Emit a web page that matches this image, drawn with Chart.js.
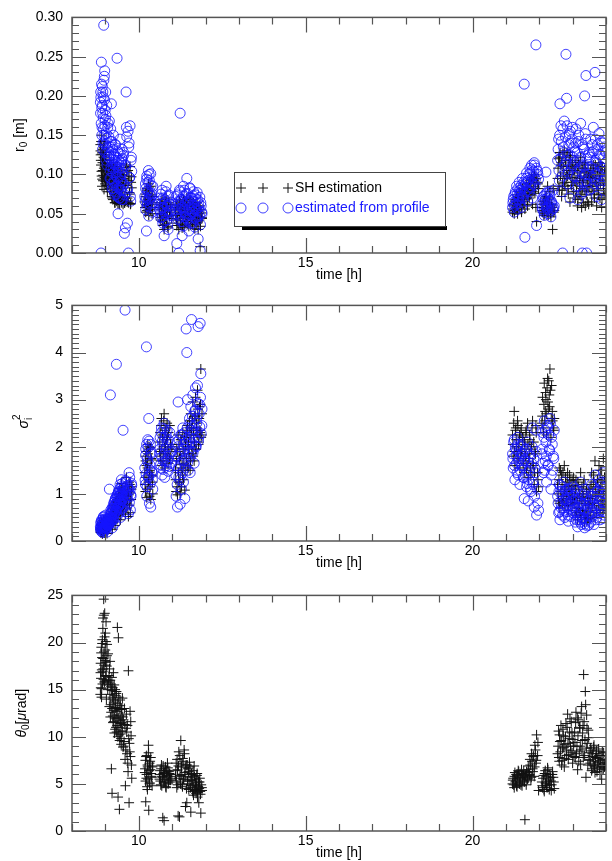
<!DOCTYPE html>
<html>
<head>
<meta charset="utf-8">
<script src="https://cdn.jsdelivr.net/npm/chart.js@4.4.0/dist/chart.umd.min.js"></script>
<style>
  html, body { margin: 0; padding: 0; background: #fff; overflow: hidden; }
  .panel { position: absolute; left: 0; width: 612px; height: 288px; }
</style>
</head>
<body>
<div class="panel" style="top:0"><canvas id="r0Chart"></canvas></div>
<div class="panel" style="top:288px"><canvas id="sigmaChart"></canvas></div>
<div class="panel" style="top:578px"><canvas id="thetaChart"></canvas></div>
<script>
// time of each measurement [h]; first run, then the interleaved second run
const hours = [
  8.85, 8.86, 8.87, 8.88, 8.89, 8.90, 8.91, 8.92, 8.93, 8.94, 8.95, 8.96, 8.97, 8.98, 8.99, 9.00, 9.01, 9.02, 9.03, 9.04, 9.05, 9.06, 9.08, 9.10,
  9.11, 9.12, 9.14, 9.15, 9.17, 9.18, 9.20, 9.21, 9.23, 9.24, 9.26, 9.27, 9.29, 9.30, 9.32, 9.33, 9.35, 9.36, 9.38, 9.39, 9.41, 9.42, 9.44, 9.45, 9.47, 9.48, 9.50, 9.51, 9.53, 9.54, 9.56, 9.57, 9.59, 9.60, 9.62, 9.63, 9.65, 9.66, 9.68, 9.69, 9.71, 9.72, 9.74, 9.75, 9.77, 9.79,
  10.18, 10.20, 10.21, 10.23, 10.24, 10.26, 10.27, 10.29, 10.30, 10.32, 10.33, 10.35, 10.36, 10.38, 10.40, 10.42,
  10.62, 10.64, 10.66, 10.68, 10.70, 10.72, 10.74, 10.76, 10.78, 10.80, 10.82, 10.84, 10.86, 10.88, 10.90, 10.93, 10.96, 10.99,
  11.10, 11.12, 11.14, 11.16, 11.18, 11.20, 11.22, 11.24, 11.26, 11.28, 11.30, 11.32, 11.34, 11.36, 11.38, 11.40, 11.42, 11.44, 11.46, 11.48, 11.50, 11.52, 11.54, 11.56, 11.58, 11.60, 11.62, 11.64, 11.66, 11.68, 11.70, 11.72, 11.74, 11.76, 11.78, 11.80, 11.82, 11.84, 11.86, 11.89,
  21.20, 21.22, 21.25, 21.27, 21.30, 21.32, 21.35, 21.37, 21.40, 21.42, 21.45, 21.47, 21.50, 21.52, 21.55, 21.57, 21.60, 21.62, 21.65, 21.67, 21.70, 21.72, 21.75, 21.77, 21.80, 21.82, 21.85, 21.87, 21.90, 21.92, 21.95, 21.98,
  22.08, 22.10, 22.13, 22.15, 22.18, 22.20, 22.22, 22.25, 22.27, 22.30, 22.32, 22.35, 22.37, 22.40, 22.42, 22.45,
  22.55, 22.58, 22.60, 22.62, 22.65, 22.67, 22.70, 22.72, 22.75, 22.77, 22.80, 22.82, 22.85, 22.87, 22.90, 22.92, 22.95, 22.98, 23.00, 23.03,
  23.06, 23.08, 23.10, 23.13, 23.15, 23.17, 23.20, 23.22, 23.24, 23.27, 23.29, 23.31, 23.33, 23.36, 23.38, 23.40, 23.42, 23.44, 23.47, 23.49,
  23.52, 23.54, 23.57, 23.59, 23.62, 23.64, 23.67, 23.69, 23.72, 23.74, 23.77, 23.79, 23.82, 23.84, 23.87, 23.89, 23.92, 23.94, 23.97, 23.99,
  // second run
  8.855, 8.865, 8.875, 8.885, 8.895, 8.905, 8.915, 8.925, 8.935, 8.945, 8.955, 8.965, 8.975, 8.985, 8.995, 9.005, 9.015, 9.025, 9.045, 9.07,
  9.105, 9.125, 9.135, 9.145, 9.16, 9.165, 9.175, 9.19, 9.195, 9.205, 9.22, 9.225, 9.235, 9.25, 9.255, 9.265, 9.28, 9.285, 9.295, 9.31, 9.315, 9.325, 9.34, 9.345, 9.355, 9.37, 9.375, 9.385, 9.40, 9.405, 9.415, 9.43, 9.435, 9.445, 9.46, 9.465, 9.475, 9.49, 9.495, 9.505, 9.52, 9.545, 9.58, 9.61, 9.64, 9.67, 9.70, 9.73, 9.76, 9.78,
  10.19, 10.205, 10.22, 10.235, 10.25, 10.265, 10.28, 10.295, 10.31, 10.325, 10.34, 10.37, 10.39, 10.41,
  10.63, 10.65, 10.67, 10.69, 10.71, 10.73, 10.75, 10.77, 10.79, 10.81, 10.83, 10.85, 10.87, 10.89, 10.92, 10.95,
  11.11, 11.13, 11.15, 11.17, 11.19, 11.21, 11.23, 11.25, 11.27, 11.29, 11.31, 11.33, 11.35, 11.37, 11.39, 11.41, 11.43, 11.45, 11.47, 11.49, 11.51, 11.53, 11.55, 11.57, 11.59, 11.61, 11.63, 11.65, 11.67, 11.69, 11.71, 11.73, 11.75, 11.77, 11.79, 11.81, 11.83, 11.85, 11.87, 11.895,
  21.21, 21.235, 21.26, 21.285, 21.31, 21.335, 21.36, 21.385, 21.41, 21.435, 21.46, 21.485, 21.51, 21.535, 21.56, 21.585, 21.61, 21.635, 21.66, 21.685, 21.71, 21.735, 21.76, 21.785, 21.81, 21.835, 21.86, 21.885, 21.91, 21.96,
  22.09, 22.115, 22.14, 22.165, 22.19, 22.21, 22.235, 22.26, 22.285, 22.31, 22.335, 22.36, 22.39, 22.435,
  22.565, 22.59, 22.61, 22.635, 22.66, 22.685, 22.71, 22.735, 22.76, 22.785, 22.81, 22.835, 22.86, 22.885, 22.91, 22.935, 22.96, 22.985, 23.01, 23.04,
  23.07, 23.09, 23.115, 23.14, 23.16, 23.185, 23.21, 23.23, 23.255, 23.28, 23.30, 23.32, 23.345, 23.37, 23.39, 23.41, 23.43, 23.455, 23.48, 23.495,
  23.53, 23.555, 23.58, 23.605, 23.63, 23.655, 23.68, 23.705, 23.73, 23.755, 23.78, 23.805, 23.83, 23.855, 23.88, 23.905, 23.93, 23.955, 23.98, 23.995
];

// r0 [m]
const r0SH = [
  0.138, 0.125, 0.112, 0.150, 0.098, 0.085, 0.128, 0.105, 0.092, 0.118, 0.134, 0.081, 0.121, 0.110, 0.088, 0.102, 0.119, 0.095, 0.086, 0.109, 0.093, 0.078, 0.104, 0.090,
  0.100, 0.118, 0.082, 0.108, 0.090, 0.112, 0.070, 0.104, 0.084, 0.115, 0.076, 0.096, 0.064, 0.101, 0.080, 0.092, 0.110, 0.068, 0.075, 0.098, 0.063, 0.087, 0.106, 0.074, 0.094, 0.066, 0.100, 0.082, 0.062, 0.095, 0.071, 0.064, 0.088, 0.066, 0.109, 0.112, 0.065, 0.070, 0.105, 0.064, 0.098, 0.077, 0.110, 0.062, 0.090, 0.083,
  0.065, 0.075, 0.052, 0.060, 0.082, 0.058, 0.070, 0.088, 0.048, 0.079, 0.062, 0.055, 0.085, 0.068, 0.050, 0.072,
  0.050, 0.062, 0.042, 0.055, 0.068, 0.035, 0.052, 0.030, 0.060, 0.046, 0.070, 0.038, 0.054, 0.032, 0.064, 0.048, 0.058, 0.044,
  0.048, 0.060, 0.035, 0.042, 0.055, 0.030, 0.066, 0.058, 0.036, 0.058, 0.032, 0.050, 0.068, 0.033, 0.054, 0.044, 0.062, 0.070, 0.040, 0.056, 0.034, 0.048, 0.066, 0.036, 0.060, 0.046, 0.040, 0.064, 0.052, 0.031, 0.062, 0.047, 0.038, 0.058, 0.030, 0.050, 0.042, 0.008, 0.055, 0.045,
  0.052, 0.060, 0.050, 0.066, 0.055, 0.074, 0.050, 0.064, 0.078, 0.058, 0.070, 0.052, 0.082, 0.062, 0.068, 0.056, 0.076, 0.088, 0.060, 0.080, 0.070, 0.092, 0.074, 0.096, 0.062, 0.085, 0.100, 0.076, 0.058, 0.040, 0.090, 0.082,
  0.058, 0.052, 0.066, 0.050, 0.070, 0.062, 0.056, 0.085, 0.048, 0.062, 0.078, 0.046, 0.060, 0.030, 0.082, 0.054,
  0.095, 0.120, 0.080, 0.128, 0.112, 0.072, 0.088, 0.110, 0.130, 0.085, 0.118, 0.105, 0.098, 0.075, 0.122, 0.065, 0.108, 0.090, 0.115, 0.078,
  0.105, 0.070, 0.118, 0.088, 0.060, 0.112, 0.095, 0.075, 0.122, 0.058, 0.082, 0.108, 0.092, 0.115, 0.060, 0.102, 0.078, 0.065, 0.098, 0.085,
  0.088, 0.105, 0.065, 0.098, 0.112, 0.075, 0.090, 0.095, 0.060, 0.108, 0.082, 0.115, 0.070, 0.100, 0.058, 0.110, 0.086, 0.074, 0.102, 0.092,
  // second run
  0.130, 0.118, 0.142, 0.104, 0.126, 0.094, 0.115, 0.132, 0.099, 0.122, 0.108, 0.140, 0.096, 0.114, 0.125, 0.091, 0.106, 0.128, 0.097, 0.112,
  0.108, 0.095, 0.112, 0.086, 0.102, 0.078, 0.098, 0.110, 0.072, 0.092, 0.105, 0.068, 0.088, 0.100, 0.075, 0.094, 0.064, 0.090, 0.108, 0.070, 0.085, 0.098, 0.066, 0.092, 0.080, 0.104, 0.063, 0.087, 0.096, 0.073, 0.090, 0.062, 0.084, 0.101, 0.069, 0.093, 0.078, 0.064, 0.088, 0.099, 0.071, 0.094, 0.064, 0.086, 0.103, 0.066, 0.092, 0.075, 0.063, 0.097,
  0.058, 0.072, 0.062, 0.080, 0.054, 0.068, 0.076, 0.060, 0.084, 0.066, 0.056, 0.074, 0.064, 0.058,
  0.058, 0.045, 0.064, 0.050, 0.040, 0.060, 0.048, 0.036, 0.056, 0.066, 0.044, 0.052, 0.034, 0.062, 0.047, 0.055,
  0.052, 0.044, 0.062, 0.038, 0.056, 0.048, 0.064, 0.041, 0.058, 0.050, 0.035, 0.060, 0.046, 0.066, 0.040, 0.054, 0.047, 0.063, 0.037, 0.057, 0.049, 0.068, 0.043, 0.059, 0.052, 0.036, 0.061, 0.045, 0.055, 0.039, 0.058, 0.048, 0.064, 0.041, 0.053, 0.046, 0.060, 0.034, 0.051, 0.044,
  0.056, 0.062, 0.054, 0.068, 0.058, 0.064, 0.072, 0.060, 0.070, 0.066, 0.076, 0.062, 0.074, 0.080, 0.066, 0.078, 0.084, 0.070, 0.082, 0.088, 0.074, 0.090, 0.080, 0.094, 0.078, 0.092, 0.098, 0.082, 0.095, 0.088,
  0.054, 0.062, 0.048, 0.066, 0.058, 0.072, 0.052, 0.064, 0.056, 0.070, 0.050, 0.062, 0.058, 0.052,
  0.108, 0.085, 0.122, 0.098, 0.115, 0.080, 0.126, 0.102, 0.090, 0.118, 0.095, 0.128, 0.082, 0.110, 0.100, 0.124, 0.086, 0.112, 0.096, 0.105,
  0.092, 0.110, 0.078, 0.102, 0.068, 0.115, 0.085, 0.098, 0.072, 0.108, 0.090, 0.064, 0.104, 0.080, 0.112, 0.074, 0.096, 0.086, 0.062, 0.100,
  0.096, 0.078, 0.108, 0.085, 0.102, 0.070, 0.112, 0.090, 0.080, 0.104, 0.074, 0.098, 0.088, 0.110, 0.068, 0.094, 0.082, 0.106, 0.076, 0.100
];
const r0Profile = [
  0.192, 0.205, 0.000, 0.243, 0.185, 0.160, 0.212, 0.178, 0.140, 0.198, 0.290, 0.150, 0.225, 0.232, 0.128, 0.170, 0.205, 0.118, 0.146, 0.188, 0.112, 0.135, 0.165, 0.122,
  0.125, 0.168, 0.095, 0.142, 0.110, 0.190, 0.082, 0.135, 0.102, 0.150, 0.090, 0.122, 0.074, 0.138, 0.098, 0.115, 0.248, 0.085, 0.050, 0.128, 0.070, 0.108, 0.145, 0.092, 0.118, 0.080, 0.132, 0.101, 0.068, 0.124, 0.088, 0.025, 0.112, 0.032, 0.205, 0.160, 0.078, 0.038, 0.155, 0.000, 0.140, 0.096, 0.162, 0.072, 0.118, 0.104,
  0.072, 0.088, 0.055, 0.028, 0.098, 0.064, 0.080, 0.105, 0.047, 0.092, 0.069, 0.058, 0.101, 0.076, 0.052, 0.085,
  0.055, 0.070, 0.045, 0.062, 0.080, 0.038, 0.058, 0.022, 0.068, 0.050, 0.085, 0.042, 0.060, 0.030, 0.074, 0.052, 0.065, 0.048,
  0.055, 0.072, 0.012, 0.048, 0.064, 0.000, 0.080, 0.178, 0.040, 0.068, 0.022, 0.058, 0.085, 0.035, 0.062, 0.050, 0.075, 0.095, 0.044, 0.066, 0.028, 0.056, 0.082, 0.038, 0.070, 0.052, 0.046, 0.078, 0.060, 0.033, 0.074, 0.054, 0.042, 0.068, 0.018, 0.058, 0.048, 0.003, 0.064, 0.052,
  0.058, 0.068, 0.052, 0.075, 0.062, 0.085, 0.056, 0.072, 0.090, 0.064, 0.080, 0.058, 0.095, 0.070, 0.215, 0.020, 0.088, 0.102, 0.066, 0.092, 0.078, 0.108, 0.084, 0.112, 0.070, 0.098, 0.115, 0.086, 0.265, 0.035, 0.104, 0.094,
  0.062, 0.055, 0.072, 0.048, 0.068, 0.103, 0.058, 0.078, 0.050, 0.066, 0.074, 0.046, 0.064, 0.056, 0.080, 0.060,
  0.118, 0.145, 0.092, 0.190, 0.162, 0.078, 0.000, 0.135, 0.168, 0.105, 0.253, 0.197, 0.125, 0.088, 0.152, 0.070, 0.140, 0.112, 0.160, 0.098,
  0.130, 0.085, 0.158, 0.105, 0.068, 0.142, 0.118, 0.092, 0.165, 0.075, 0.000, 0.135, 0.110, 0.200, 0.152, 0.226, 0.000, 0.088, 0.125, 0.100,
  0.110, 0.145, 0.082, 0.128, 0.160, 0.095, 0.230, 0.118, 0.072, 0.138, 0.102, 0.152, 0.088, 0.125, 0.068, 0.140, 0.108, 0.092, 0.130, 0.115,
  // second run
  0.178, 0.198, 0.165, 0.215, 0.150, 0.188, 0.132, 0.205, 0.172, 0.158, 0.220, 0.142, 0.195, 0.162, 0.182, 0.138, 0.175, 0.152, 0.128, 0.160,
  0.148, 0.120, 0.135, 0.105, 0.158, 0.095, 0.128, 0.142, 0.088, 0.115, 0.132, 0.082, 0.108, 0.125, 0.092, 0.118, 0.078, 0.112, 0.138, 0.085, 0.102, 0.122, 0.075, 0.110, 0.096, 0.130, 0.072, 0.106, 0.118, 0.083, 0.112, 0.070, 0.098, 0.126, 0.080, 0.115, 0.092, 0.068, 0.108, 0.120, 0.085, 0.128, 0.074, 0.110, 0.148, 0.082, 0.135, 0.096, 0.066, 0.122,
  0.066, 0.082, 0.070, 0.094, 0.060, 0.078, 0.090, 0.068, 0.100, 0.075, 0.062, 0.086, 0.072, 0.064,
  0.066, 0.052, 0.075, 0.058, 0.046, 0.070, 0.055, 0.040, 0.064, 0.078, 0.050, 0.060, 0.036, 0.072, 0.054, 0.062,
  0.062, 0.050, 0.074, 0.043, 0.066, 0.056, 0.078, 0.047, 0.068, 0.058, 0.040, 0.072, 0.053, 0.080, 0.045, 0.064, 0.055, 0.076, 0.042, 0.067, 0.057, 0.083, 0.049, 0.070, 0.061, 0.038, 0.073, 0.052, 0.065, 0.044, 0.069, 0.056, 0.077, 0.046, 0.063, 0.054, 0.071, 0.036, 0.060, 0.050,
  0.064, 0.072, 0.060, 0.078, 0.066, 0.074, 0.082, 0.068, 0.080, 0.076, 0.086, 0.072, 0.084, 0.090, 0.076, 0.088, 0.095, 0.080, 0.092, 0.100, 0.084, 0.102, 0.090, 0.106, 0.088, 0.104, 0.112, 0.094, 0.108, 0.100,
  0.058, 0.068, 0.052, 0.074, 0.062, 0.076, 0.056, 0.070, 0.060, 0.078, 0.054, 0.066, 0.062, 0.057,
  0.132, 0.105, 0.150, 0.120, 0.142, 0.098, 0.158, 0.128, 0.112, 0.148, 0.118, 0.162, 0.102, 0.138, 0.125, 0.155, 0.108, 0.145, 0.122, 0.135,
  0.115, 0.140, 0.098, 0.128, 0.085, 0.150, 0.108, 0.122, 0.090, 0.138, 0.112, 0.078, 0.132, 0.100, 0.145, 0.092, 0.120, 0.106, 0.080, 0.128,
  0.122, 0.098, 0.138, 0.108, 0.130, 0.088, 0.145, 0.115, 0.100, 0.132, 0.092, 0.125, 0.110, 0.142, 0.085, 0.120, 0.104, 0.135, 0.095, 0.128
];

// scintillation index sigma_i^2
const sigmaSH = [
  0.25, 0.18, 0.33, 0.22, 0.40, 0.28, 0.15, 0.36, 0.21, 0.44, 0.30, 0.24, 0.17, 0.41, 0.27, 0.20, 0.46, 0.31, 0.23, 0.37, 0.16, 0.34, 0.28, 0.42,
  0.30, 0.42, 0.38, 0.52, 0.34, 0.55, 0.48, 0.25, 0.62, 0.40, 0.75, 0.52, 0.33, 0.82, 0.60, 0.70, 0.46, 0.88, 0.66, 0.98, 0.55, 0.80, 1.12, 0.45, 0.72, 1.22, 0.62, 0.90, 0.75, 0.66, 1.08, 0.78, 0.95, 0.57, 0.96, 1.35, 0.70, 0.86, 1.05, 0.52, 1.25, 0.76, 1.02, 0.60, 0.88, 1.15,
  1.45, 1.05, 1.80, 1.60, 0.92, 1.65, 2.05, 1.25, 1.95, 0.95, 1.50, 1.98, 0.88, 1.72, 1.38, 1.00,
  1.90, 2.30, 1.70, 2.60, 1.60, 2.20, 1.85, 2.70, 1.55, 2.05, 2.40, 1.75, 2.20, 1.65, 1.95, 2.45, 1.80, 2.00,
  1.50, 1.05, 1.95, 0.98, 2.25, 1.25, 1.75, 1.02, 2.15, 1.15, 1.62, 2.30, 1.30, 1.85, 1.08, 2.05, 2.20, 2.35, 2.45, 1.55, 1.95, 2.55, 1.50, 2.70, 2.40, 1.85, 2.95, 2.25, 1.70, 2.65, 3.05, 1.95, 2.40, 3.20, 2.60, 2.10, 2.85, 2.30, 3.65, 2.25,
  2.25, 1.80, 2.75, 1.60, 2.40, 2.00, 2.55, 1.75, 2.15, 1.55, 2.30, 1.90, 2.20, 1.65, 1.45, 2.05, 2.30, 1.50, 2.50, 1.35, 1.85, 2.15, 1.40, 2.00, 2.55, 1.60, 1.20, 1.90, 2.45, 1.05, 1.45, 1.15,
  2.50, 3.05, 2.30, 3.35, 2.75, 3.00, 2.25, 3.45, 2.80, 3.10, 3.65, 2.20, 3.30, 2.55, 2.40, 2.60,
  1.20, 0.85, 1.55, 0.70, 1.05, 1.40, 0.80, 0.95, 1.60, 0.75, 1.15, 0.90, 1.45, 0.65, 1.00, 1.30, 0.78, 1.10, 0.92, 1.35,
  0.95, 0.55, 1.30, 0.70, 0.45, 1.15, 0.80, 0.60, 1.45, 0.50, 1.00, 0.65, 1.20, 0.40, 0.85, 0.55, 1.10, 0.45, 0.75, 1.05,
  1.10, 0.55, 1.45, 0.80, 1.25, 0.50, 1.70, 0.95, 0.65, 1.30, 1.00, 1.60, 0.60, 1.15, 1.50, 0.85, 1.75, 0.72, 1.35, 1.05,
  // second run
  0.21, 0.35, 0.27, 0.19, 0.38, 0.24, 0.32, 0.17, 0.29, 0.43, 0.22, 0.35, 0.26, 0.20, 0.39, 0.28, 0.33, 0.24, 0.40, 0.30,
  0.32, 0.45, 0.36, 0.50, 0.42, 0.58, 0.38, 0.52, 0.46, 0.62, 0.40, 0.56, 0.68, 0.48, 0.60, 0.72, 0.52, 0.66, 0.78, 0.55, 0.70, 0.84, 0.58, 0.74, 0.88, 0.62, 0.80, 0.92, 0.66, 0.85, 1.00, 0.70, 0.86, 0.94, 0.74, 0.90, 1.05, 0.78, 0.95, 1.10, 0.82, 1.00, 0.90, 1.15, 0.85, 1.05, 0.98, 1.20, 0.88, 1.10,
  1.20, 1.70, 1.35, 1.90, 1.10, 1.55, 1.85, 1.30, 2.00, 1.45, 1.15, 1.75, 1.40, 1.25,
  2.10, 1.80, 2.45, 1.95, 2.25, 1.70, 2.55, 2.00, 2.35, 1.85, 2.15, 2.50, 1.90, 2.30, 1.75, 2.05,
  1.30, 1.70, 1.15, 1.90, 1.45, 2.05, 1.25, 1.80, 1.55, 2.15, 1.40, 1.95, 1.65, 2.20, 1.50, 2.00, 1.75, 2.30, 1.60, 2.10, 1.85, 2.40, 1.70, 2.25, 2.00, 2.55, 1.80, 2.35, 2.10, 2.65, 1.95, 2.50, 2.25, 2.80, 2.05, 2.60, 2.35, 2.90, 2.20, 2.70,
  2.05, 2.50, 1.90, 2.35, 2.15, 1.75, 2.45, 2.00, 2.25, 1.85, 2.40, 1.95, 2.20, 1.70, 2.10, 1.80, 2.35, 1.60, 2.05, 1.75, 2.25, 1.55, 1.95, 2.40, 1.65, 2.10, 1.45, 1.85, 2.30, 1.30,
  2.65, 2.40, 2.90, 2.55, 3.15, 2.70, 3.25, 2.95, 3.40, 2.85, 3.20, 2.60, 2.75, 2.35,
  1.00, 1.30, 0.80, 1.50, 0.90, 1.20, 1.45, 0.85, 1.10, 1.35, 0.95, 1.25, 0.75, 1.15, 1.40, 0.88, 1.05, 1.28, 0.82, 1.18,
  0.80, 1.10, 0.60, 0.90, 1.25, 0.70, 1.00, 0.55, 0.85, 1.15, 0.65, 0.95, 1.30, 0.50, 0.80, 1.05, 0.62, 0.92, 0.48, 0.78,
  0.90, 1.20, 0.70, 1.05, 1.40, 0.80, 1.15, 0.60, 0.95, 1.30, 0.75, 1.10, 1.50, 0.85, 1.25, 0.65, 1.00, 1.35, 0.78, 1.20
];
const sigmaProfile = [
  0.30, 0.22, 0.38, 0.27, 0.45, 0.33, 0.18, 0.41, 0.25, 0.52, 0.36, 0.29, 0.20, 0.47, 0.31, 0.24, 0.55, 0.35, 0.28, 0.42, 0.19, 0.39, 0.33, 0.48,
  0.35, 1.10, 0.48, 3.10, 0.40, 0.62, 0.55, 0.28, 0.70, 0.45, 0.82, 0.58, 0.38, 0.90, 0.66, 3.75, 0.52, 0.95, 0.74, 1.05, 0.60, 0.88, 1.20, 0.50, 0.78, 1.30, 0.68, 0.98, 2.35, 0.72, 1.15, 0.85, 4.90, 0.62, 1.02, 1.25, 0.76, 0.92, 1.12, 0.58, 1.45, 0.82, 1.08, 0.66, 0.95, 1.18,
  1.55, 1.20, 1.95, 4.12, 0.95, 1.75, 2.15, 1.35, 2.60, 0.80, 1.62, 2.05, 0.72, 1.88, 1.45, 1.10,
  1.85, 2.20, 1.55, 2.40, 1.40, 2.05, 1.70, 2.50, 1.35, 1.95, 2.25, 1.60, 2.10, 1.48, 1.80, 2.30, 1.65, 1.90,
  1.60, 0.95, 2.10, 0.72, 2.95, 1.35, 1.85, 0.78, 2.25, 1.10, 1.70, 2.40, 1.25, 1.95, 0.90, 2.15, 4.50, 4.00, 3.00, 1.50, 2.05, 2.60, 1.45, 2.85, 4.70, 1.90, 3.10, 2.30, 1.65, 2.75, 3.25, 2.00, 2.50, 3.30, 4.55, 2.20, 2.90, 4.62, 3.55, 2.45,
  1.85, 1.55, 2.15, 1.30, 1.95, 1.65, 2.20, 1.40, 1.75, 1.20, 2.05, 1.60, 1.85, 1.35, 0.90, 1.70, 1.95, 1.15, 2.10, 0.85, 1.50, 1.80, 1.05, 1.65, 2.40, 1.25, 0.72, 1.55, 2.35, 0.55, 1.10, 0.65,
  1.85, 2.30, 1.45, 2.55, 1.70, 2.10, 1.25, 2.40, 1.60, 1.95, 2.60, 1.10, 2.20, 1.50, 1.80, 2.35,
  0.95, 0.60, 1.20, 0.45, 0.80, 1.05, 0.55, 0.70, 1.25, 0.50, 0.88, 0.62, 1.10, 0.42, 0.75, 0.98, 0.52, 0.85, 0.65, 1.15,
  0.75, 0.40, 1.10, 0.55, 0.30, 0.90, 0.62, 0.45, 1.25, 0.35, 0.80, 0.50, 1.00, 0.28, 0.68, 0.42, 0.95, 0.32, 0.58, 0.85,
  0.85, 0.40, 1.20, 0.60, 0.95, 0.35, 1.40, 0.70, 0.50, 1.05, 0.78, 1.30, 0.45, 0.90, 1.15, 0.62, 1.45, 0.55, 1.00, 0.80,
  // second run
  0.26, 0.40, 0.31, 0.23, 0.44, 0.28, 0.37, 0.21, 0.34, 0.50, 0.25, 0.42, 0.30, 0.24, 0.46, 0.32, 0.38, 0.27, 0.45, 0.35,
  0.38, 0.52, 0.42, 0.58, 0.48, 0.66, 0.44, 0.60, 0.52, 0.70, 0.46, 0.64, 0.76, 0.55, 0.68, 0.82, 0.58, 0.75, 0.88, 0.62, 0.78, 0.94, 0.65, 0.82, 0.98, 0.70, 0.90, 1.02, 0.74, 0.95, 1.10, 0.78, 0.96, 1.05, 0.82, 1.00, 1.15, 0.86, 1.05, 1.22, 0.90, 1.12, 1.00, 1.28, 0.95, 1.18, 1.08, 1.35, 0.98, 1.22,
  1.30, 1.82, 1.42, 2.05, 1.15, 1.68, 1.98, 1.38, 2.12, 1.52, 1.22, 1.85, 1.48, 1.30,
  1.95, 1.62, 2.30, 1.78, 2.12, 1.52, 2.38, 1.85, 2.20, 1.68, 2.00, 2.35, 1.72, 2.15, 1.58, 1.88,
  1.40, 1.80, 1.20, 2.00, 1.55, 2.15, 1.30, 1.90, 1.62, 2.25, 1.45, 2.05, 1.72, 2.30, 1.55, 2.08, 1.82, 2.40, 1.68, 2.20, 1.92, 2.50, 1.78, 2.35, 2.08, 2.65, 1.88, 2.45, 2.18, 2.78, 2.02, 2.60, 2.32, 2.92, 2.12, 2.70, 2.42, 3.05, 2.28, 2.80,
  1.75, 2.10, 1.60, 1.98, 1.82, 1.45, 2.05, 1.70, 1.90, 1.50, 2.00, 1.62, 1.85, 1.35, 1.72, 1.40, 1.95, 1.22, 1.68, 1.30, 1.85, 1.10, 1.58, 2.00, 1.20, 1.75, 0.95, 1.45, 1.90, 0.80,
  1.95, 1.65, 2.20, 1.50, 2.35, 1.80, 2.45, 1.62, 2.25, 1.92, 2.50, 1.40, 2.05, 1.75,
  0.80, 1.05, 0.62, 1.18, 0.70, 0.95, 1.15, 0.65, 0.88, 1.08, 0.75, 1.00, 0.55, 0.92, 1.12, 0.68, 0.85, 1.02, 0.60, 0.95,
  0.62, 0.88, 0.45, 0.72, 1.05, 0.52, 0.82, 0.40, 0.68, 0.98, 0.48, 0.78, 1.10, 0.36, 0.64, 0.88, 0.46, 0.75, 0.34, 0.60,
  0.70, 0.95, 0.52, 0.85, 1.15, 0.62, 0.92, 0.45, 0.75, 1.08, 0.58, 0.88, 1.22, 0.66, 1.02, 0.48, 0.80, 1.12, 0.60, 0.98
];

// isoplanatic angle theta0 [urad]
const theta0 = [
  14.5, 17.8, 16.2, 19.5, 15.1, 18.4, 20.3, 16.9, 22.6, 17.2, 24.6, 19.0, 15.8, 23.1, 18.1, 21.0, 16.5, 22.2, 14.0, 17.5, 19.8, 15.5, 18.8, 16.0,
  16.5, 13.2, 18.0, 12.1, 15.3, 6.6, 4.0, 14.2, 11.5, 16.8, 12.8, 10.4, 15.0, 13.6, 11.0, 14.8, 12.3, 21.6, 3.6, 20.5, 10.2, 2.3, 13.9, 11.4, 9.8, 12.9, 10.6, 14.1, 8.9, 11.8, 9.5, 13.0, 7.6, 4.8, 10.9, 12.4, 8.2, 11.2, 6.3, 17.0, 3.0, 9.3, 12.7, 7.9, 10.1, 5.6,
  6.2, 7.5, 3.1, 5.6, 8.0, 4.4, 6.8, 9.1, 2.2, 7.2, 5.1, 6.5, 7.8, 5.8, 4.8, 6.9,
  5.5, 6.4, 4.9, 7.0, 5.8, 1.4, 6.1, 1.1, 5.2, 6.8, 4.6, 5.9, 7.2, 5.0, 6.3, 5.4, 6.0, 5.6,
  5.8, 7.2, 4.6, 6.5, 1.6, 8.4, 1.5, 5.9, 9.6, 6.8, 4.9, 7.7, 5.5, 8.6, 6.2, 2.6, 7.0, 3.0, 5.3, 6.6, 4.4, 7.3, 5.7, 2.0, 6.1, 4.8, 5.4, 3.8, 6.9, 4.3, 5.1, 4.0, 5.9, 3.6, 4.7, 3.0, 5.2, 4.2, 1.9, 4.6,
  5.0, 5.6, 4.6, 6.2, 5.3, 4.8, 5.9, 6.4, 5.1, 5.7, 4.9, 6.5, 5.4, 6.0, 5.2, 1.2, 5.8, 6.3, 5.5, 6.9, 5.9, 7.6, 5.4, 8.2, 6.6, 7.9, 5.8, 9.1, 7.2, 10.2, 8.0, 4.3,
  5.2, 4.6, 5.9, 4.2, 6.4, 5.0, 4.8, 6.7, 5.5, 4.4, 6.0, 5.3, 4.9, 6.3, 5.7, 4.5,
  8.2, 10.6, 7.4, 9.5, 11.2, 7.0, 8.8, 10.1, 6.8, 9.2, 11.4, 8.0, 12.4, 7.6, 9.8, 11.9, 8.5, 10.4, 7.2, 9.0,
  10.5, 7.8, 12.6, 9.0, 6.5, 11.8, 8.4, 10.9, 7.1, 13.2, 9.6, 11.2, 16.6, 8.0, 14.8, 5.7, 12.3, 9.3, 10.7, 7.5,
  7.6, 8.8, 6.4, 8.2, 7.0, 9.1, 6.2, 7.8, 8.5, 6.8, 7.3, 8.0, 6.0, 7.5, 5.5, 8.4, 6.6, 7.2, 6.9, 7.9,
  // second run
  16.8, 15.2, 18.9, 14.2, 17.1, 19.9, 15.6, 21.5, 18.3, 16.1, 22.9, 17.6, 20.6, 15.9, 19.2, 17.9, 20.1, 16.4, 18.6, 15.0,
  15.8, 17.2, 14.5, 16.0, 13.4, 15.6, 12.6, 14.9, 16.3, 13.0, 15.2, 12.2, 14.0, 11.6, 13.8, 15.5, 12.0, 14.4, 10.8, 13.1, 11.9, 14.6, 10.5, 12.7, 11.2, 13.5, 10.0, 12.0, 14.2, 11.0, 12.9, 9.6, 11.7, 13.3, 10.3, 12.2, 9.2, 11.5, 13.0, 10.6, 12.1, 9.0, 11.3, 8.6, 10.5, 7.2, 9.8, 8.4, 11.6, 7.0,
  6.6, 5.3, 7.9, 6.0, 4.7, 7.0, 5.5, 8.3, 6.4, 5.0, 7.4, 6.1, 5.7, 6.8,
  6.0, 5.3, 6.6, 4.8, 5.7, 6.9, 5.1, 6.2, 5.5, 4.7, 6.4, 5.8, 6.7, 5.2, 6.1, 5.4,
  6.4, 5.2, 7.6, 4.9, 6.9, 5.6, 8.0, 5.0, 7.1, 6.0, 4.7, 7.4, 5.5, 8.2, 5.8, 6.7, 4.5, 7.0, 5.3, 6.3, 5.0, 6.8, 4.6, 6.0, 5.4, 4.2, 6.4, 4.9, 5.8, 4.4, 5.5, 4.8, 6.1, 4.1, 5.2, 4.5, 5.6, 3.9, 4.9, 4.3,
  5.4, 4.9, 5.8, 5.2, 6.0, 4.7, 5.6, 6.3, 5.0, 5.5, 6.1, 4.8, 5.7, 6.4, 5.3, 5.9, 4.9, 6.2, 5.6, 6.5, 6.0, 7.0, 5.7, 7.4, 6.3, 8.0, 6.8, 8.6, 7.5, 9.4,
  4.8, 5.6, 4.4, 6.1, 5.1, 5.8, 4.6, 6.5, 5.3, 4.9, 5.7, 4.3, 6.0, 5.2,
  9.0, 7.8, 10.2, 8.4, 9.6, 7.5, 10.8, 8.9, 7.7, 10.0, 8.6, 11.0, 9.3, 8.1, 10.5, 9.0, 11.6, 8.3, 9.7, 7.9,
  9.4, 11.5, 8.2, 12.0, 10.1, 7.4, 11.0, 9.0, 12.5, 8.6, 10.4, 7.8, 11.6, 9.7, 13.4, 8.8, 10.9, 7.0, 9.9, 8.3,
  7.2, 8.5, 6.6, 7.9, 8.9, 6.9, 7.4, 8.2, 6.3, 7.7, 8.7, 6.7, 7.1, 8.0, 6.5, 7.6, 8.3, 6.8, 7.3, 7.0
];

const FONT = '"Liberation Sans", Arial, Helvetica, sans-serif';
Chart.defaults.font.family = FONT;
Chart.defaults.font.size = 14;
Chart.defaults.color = '#000';

const BLUE = 'rgba(20, 20, 255, 0.8)';

function pts(vals) {
    return hours.map((h, i) => ({x: h, y: vals[i]}));
}

function plusSet(vals, label) {
    return {
        label: label,
        data: pts(vals),
        pointStyle: 'cross',
        pointRadius: 5,
        borderWidth: 1,
        borderColor: '#111',
        backgroundColor: '#111',
        order: 2
    };
}

function circleSet(vals, label) {
    return {
        label: label,
        data: pts(vals),
        pointStyle: 'circle',
        pointRadius: 5,
        borderWidth: 1,
        borderColor: BLUE,
        backgroundColor: 'rgba(0,0,0,0)',
        order: 1
    };
}

// frame with inward major/minor ticks on all four sides
const frameTicks = {
    id: 'frameTicks',
    afterDraw(chart, args, o) {
        const {ctx, chartArea: a, scales: {x, y}} = chart;
        ctx.save();
        ctx.strokeStyle = '#555';
        ctx.lineWidth = 1.2;
        ctx.beginPath();
        for (let h = x.min; h <= x.max + 1e-6; h += 1) {
            const px = Math.round(x.getPixelForValue(h)) + 0.5;
            const len = (Math.round(h) % 5 === 0) ? 15 : 7;
            ctx.moveTo(px, a.bottom); ctx.lineTo(px, a.bottom - len);
            ctx.moveTo(px, a.top); ctx.lineTo(px, a.top + len);
        }
        const n = Math.round((y.max - y.min) / o.minor);
        for (let k = 0; k <= n; k++) {
            const py = Math.round(y.getPixelForValue(y.min + k * o.minor)) + 0.5;
            const len = (k % o.per === 0) ? 14 : 7;
            ctx.moveTo(a.left, py); ctx.lineTo(a.left + len, py);
            ctx.moveTo(a.right, py); ctx.lineTo(a.right - len, py);
        }
        ctx.stroke();
        ctx.lineWidth = 1.5;
        ctx.strokeRect(a.left, a.top, a.right - a.left, a.bottom - a.top);
        ctx.restore();
    }
};

// rotated y title with sub/superscripts
const yTitle = {
    id: 'yTitle',
    afterDraw(chart, args, o) {
        const {ctx, chartArea: a} = chart;
        const size = 14;
        const fontFor = p => (p.italic ? 'italic ' : '') + (p.small ? 10 : size) + 'px ' + FONT;
        ctx.save();
        ctx.translate(o.x, (a.top + a.bottom) / 2);
        ctx.rotate(-Math.PI / 2);
        ctx.textBaseline = 'middle';
        ctx.fillStyle = '#000';
        let w = 0;
        const widths = o.parts.map(p => {
            ctx.font = fontFor(p);
            const m = ctx.measureText(p.t).width;
            if (!p.stack) w += m;
            return m;
        });
        let cx = -w / 2;
        o.parts.forEach((p, i) => {
            ctx.font = fontFor(p);
            ctx.fillText(p.t, cx, p.dy || 0);
            if (!p.stack) cx += widths[i];
        });
        ctx.restore();
    }
};

// boxed legend with three symbols per entry
const boxLegend = {
    id: 'boxLegend',
    afterDraw(chart, args, o) {
        const ctx = chart.ctx;
        ctx.save();
        ctx.fillStyle = '#000';
        ctx.fillRect(o.left + 8, o.bottom, o.right - o.left - 6, 4);
        ctx.fillStyle = '#fff';
        ctx.fillRect(o.left, o.top, o.right - o.left, o.bottom - o.top);
        ctx.strokeStyle = '#444';
        ctx.lineWidth = 1;
        ctx.strokeRect(o.left + 0.5, o.top + 0.5, o.right - o.left, o.bottom - o.top);
        ctx.font = '14px ' + FONT;
        ctx.textBaseline = 'middle';
        chart.data.datasets.forEach((ds, i) => {
            const yy = o.top + 16 + i * 20;
            ctx.strokeStyle = ds.borderColor;
            ctx.lineWidth = 1;
            o.marks.forEach(mx => {
                const xx = o.left + mx;
                ctx.beginPath();
                if (ds.pointStyle === 'cross') {
                    ctx.moveTo(xx - 5, yy); ctx.lineTo(xx + 5, yy);
                    ctx.moveTo(xx, yy - 5); ctx.lineTo(xx, yy + 5);
                } else {
                    ctx.arc(xx, yy, 5, 0, Math.PI * 2);
                }
                ctx.stroke();
            });
            ctx.fillStyle = ds.pointStyle === 'cross' ? '#000' : '#1a1aff';
            ctx.fillText(ds.label, o.left + o.textX, yy);
        });
        ctx.restore();
    }
};

function makeOptions(yMin, yMax, yStep, decimals, minor, per, parts, titleX) {
    return {
        animation: false,
        responsive: true,
        maintainAspectRatio: false,
        events: [],
        layout: {padding: {top: 14, right: 1, left: 0, bottom: 0}},
        plugins: {
            legend: false,
            tooltip: {enabled: false},
            frameTicks: {minor: minor, per: per},
            yTitle: {x: titleX, parts: parts}
        },
        scales: {
            x: {
                type: 'linear',
                min: 8,
                max: 24,
                grid: {display: false, drawTicks: false},
                border: {display: false},
                ticks: {stepSize: 5, includeBounds: false, padding: 2, maxRotation: 0},
                title: {display: true, text: 'time [h]', padding: {top: 0, bottom: 4}},
                afterFit: s => { s.height = 35; }
            },
            y: {
                min: yMin,
                max: yMax,
                grid: {display: false, drawTicks: false},
                border: {display: false},
                ticks: {
                    stepSize: yStep,
                    padding: 9,
                    callback: v => v.toFixed(decimals)
                },
                afterFit: s => { s.width = 72; }
            }
        }
    };
}

const r0Options = makeOptions(0, 0.30, 0.05, 2, 0.01, 5,
    [{t: 'r'}, {t: '0', small: true, dy: 4}, {t: ' [m]'}], 20);
r0Options.plugins.boxLegend = {left: 234, top: 172, right: 445, bottom: 226, marks: [7, 29, 54], textX: 61};

new Chart(document.getElementById('r0Chart'), {
    type: 'scatter',
    data: {datasets: [plusSet(r0SH, 'SH estimation'), circleSet(r0Profile, 'estimated from profile')]},
    options: r0Options,
    plugins: [frameTicks, yTitle, boxLegend]
});

new Chart(document.getElementById('sigmaChart'), {
    type: 'scatter',
    data: {datasets: [plusSet(sigmaSH, 'SH estimation'), circleSet(sigmaProfile, 'estimated from profile')]},
    options: makeOptions(0, 5, 1, 0, 0.1, 10,
        [{t: 'σ', italic: true}, {t: '2', small: true, dy: -7, stack: true}, {t: 'i', small: true, dy: 5}], 24),
    plugins: [frameTicks, yTitle]
});

new Chart(document.getElementById('thetaChart'), {
    type: 'scatter',
    data: {datasets: [plusSet(theta0, 'SH estimation')]},
    options: makeOptions(0, 25, 5, 0, 1, 5,
        [{t: 'θ', italic: true}, {t: '0', small: true, dy: 4}, {t: '['}, {t: 'μ', italic: true}, {t: 'rad]'}], 22),
    plugins: [frameTicks, yTitle]
});
</script>
</body>
</html>
